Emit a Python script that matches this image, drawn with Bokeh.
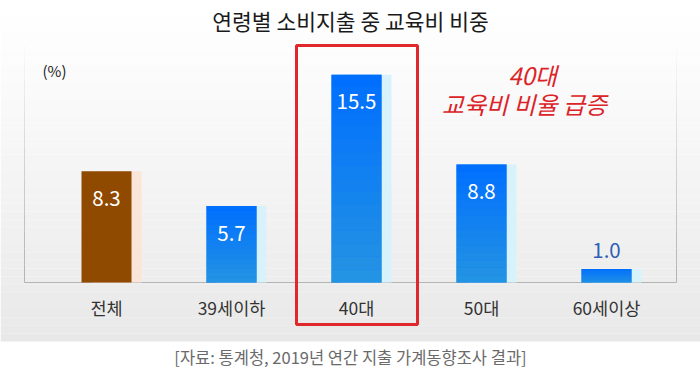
import numpy as np
from bokeh.plotting import figure
from bokeh.models import Range1d
from bokeh.core.properties import value
from bokeh.embed import file_html
from bokeh.resources import INLINE

# ---------------- data ----------------
categories = ["전체", "39세이하", "40대", "50대", "60세이상"]
shares = [8.3, 5.7, 15.5, 8.8, 1.0]
value_labels = ["8.3", "5.7", "15.5", "8.8", "1.0"]
highlight = "40대"
total_category = "전체"

title_text = "연령별 소비지출 중 교육비 비중"
unit_text = "(%)"
note_lines = ["40대", "교육비 비율 급증"]
source_text = "[자료: 통계청, 2019년 연간 지출 가계동향조사 결과]"

# ---------------- geometry helpers (canvas pixel -> data) ----------------
W, H = 700, 373
X_PX0, X_PX_STEP = 106.0, 125.0   # px of first category centre, px per category
Y_PX0, Y_PX_STEP = 282.0, 13.4    # px of baseline, px per percent


def rx(px):
    return (px - X_PX0) / X_PX_STEP


def ry(py):
    return (Y_PX0 - py) / Y_PX_STEP


FONT = value("Noto Sans CJK KR")

p = figure(width=W, height=H, output_backend="svg", toolbar_location=None,
           x_range=Range1d(rx(0), rx(W)), y_range=Range1d(ry(H), ry(0)),
           x_axis_type=None, y_axis_type=None, min_border=0,
           outline_line_color=None, background_fill_color="white",
           border_fill_color="white")
p.grid.visible = False

# ---------------- background gradient ----------------
n_bands = 42
edges = np.linspace(0, 341, n_bands + 1)
band_colors = []
for k in range(n_bands):
    t = (0.5 * (edges[k] + edges[k + 1])) / 341
    g = int(round(255 - 23 * t ** 1.15))
    band_colors.append("#%02x%02x%02x" % (g, g, g))
p.quad(left=rx(0), right=rx(W), top=[ry(e) for e in edges[:-1]],
       bottom=[ry(e) for e in edges[1:]], fill_color=band_colors, line_color=None)

# ---------------- chart frame ----------------
x_left, x_right = rx(24), rx(676)
y_top = ry(45)
n_seg = 14
seg_edges = np.linspace(y_top, 0, n_seg + 1)
seg_alpha = list(np.linspace(0.05, 1.0, n_seg))
for xx in (x_left, x_right):
    p.segment(x0=xx, x1=xx, y0=list(seg_edges[:-1]), y1=list(seg_edges[1:]),
              line_color="#b4b4b4", line_alpha=seg_alpha, line_width=1)
p.segment(x0=[x_left], x1=[x_right], y0=[0], y1=[0], line_color="#b4b4b4", line_width=1)

# ---------------- bars ----------------
idx = list(range(len(categories)))
bar_w = 50 / X_PX_STEP
shadow_off = 10 / X_PX_STEP
is_total = [c == total_category for c in categories]
shadow_colors = ["#fbe4d8" if t else "#d8f2fb" for t in is_total]
bar_colors = ["#8f4a00" if t else "#1282f0" for t in is_total]

p.vbar(x=[i + shadow_off for i in idx], top=shares, bottom=0, width=bar_w,
       fill_color=shadow_colors, line_color=None)
p.vbar(x=idx, top=shares, bottom=0, width=bar_w, fill_color=bar_colors, line_color=None)

# vertical colour gradient on the blue bars
n_sl = 16
top_rgb = np.array([0x00, 0x6e, 0xff])
bot_rgb = np.array([0x24, 0x94, 0xe2])
for i, v, t in zip(idx, shares, is_total):
    if t:
        continue
    fr = np.linspace(0, 1, n_sl + 1)
    cols = []
    for k in range(n_sl):
        f = 0.5 * (fr[k] + fr[k + 1])  # 0 bottom -> 1 top
        c = bot_rgb + (top_rgb - bot_rgb) * f
        cols.append("#%02x%02x%02x" % tuple(int(round(q)) for q in c))
    p.vbar(x=[i] * n_sl, bottom=list(v * fr[:-1]), top=list(v * fr[1:]),
           width=bar_w, fill_color=cols, line_color=None)

# ---------------- value labels ----------------
inside = [v >= 3 for v in shares]
p.text(x=idx, y=shares, text=value_labels,
       y_offset=[27 if ins else -19 for ins in inside],
       text_color=["white" if ins else "#2e5fb4" for ins in inside],
       text_font=FONT, text_font_size="20.5px", text_align="center",
       text_baseline="middle")

# ---------------- category labels ----------------
p.text(x=idx, y=[0] * len(idx), text=categories, y_offset=25,
       text_color="#333333", text_font=FONT, text_font_size="17.5px",
       text_align="center", text_baseline="middle")

# ---------------- highlight box ----------------
hi = categories.index(highlight)
p.quad(left=[hi - 60 / X_PX_STEP], right=[hi + 61 / X_PX_STEP], top=[ry(45)],
       bottom=[ry(324)], fill_color=None, line_color="#e0282c", line_width=3)

# ---------------- texts ----------------
p.text(x=[rx(350)], y=[ry(20)], text=[title_text], text_color="#1a1a1a",
       text_font=FONT, text_font_size="21.5px", text_align="center",
       text_baseline="middle")
p.text(x=[rx(42)], y=[ry(70)], text=[unit_text], text_color="#222222",
       text_font=FONT, text_font_size="15px", text_align="left",
       text_baseline="middle")
p.text(x=[rx(532), rx(524)], y=[ry(74), ry(103)], text=note_lines,
       text_color="#dc2328", text_font=FONT, text_font_size="24px",
       text_font_style="italic", text_align="center", text_baseline="middle")
p.text(x=[rx(350)], y=[ry(356)], text=[source_text], text_color="#6a6a6a",
       text_font=FONT, text_font_size="16.5px", text_align="center",
       text_baseline="middle")

open("out.html", "w").write(file_html(p, INLINE))
